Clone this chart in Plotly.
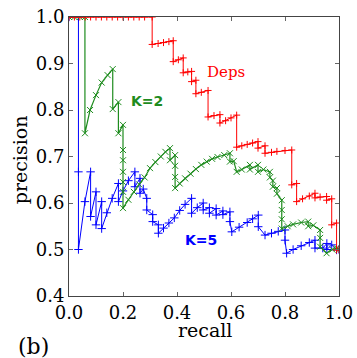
import plotly.graph_objects as go

# Deps (red)
deps_recall = [0.0, 0.02, 0.04, 0.06, 0.08, 0.10, 0.12, 0.14, 0.16, 0.18, 0.20, 0.22, 0.24, 0.26, 0.28, 0.308,
               0.308, 0.33, 0.35, 0.37, 0.386, 0.386, 0.405, 0.423, 0.423, 0.44, 0.454, 0.454, 0.470, 0.470,
               0.49, 0.515, 0.515, 0.537, 0.559, 0.559, 0.58, 0.60, 0.621, 0.621, 0.64, 0.66, 0.68, 0.70,
               0.70, 0.726, 0.726, 0.75, 0.77, 0.80, 0.825, 0.825, 0.843, 0.843, 0.865, 0.89, 0.911, 0.911,
               0.93, 0.954, 0.954, 0.973, 0.973, 0.991, 0.991, 1.0]
deps_precision = [1.0, 1.0, 1.0, 1.0, 1.0, 1.0, 1.0, 1.0, 1.0, 1.0, 1.0, 1.0, 1.0, 1.0, 1.0, 1.0,
                  0.941, 0.943, 0.945, 0.947, 0.949, 0.904, 0.908, 0.912, 0.880, 0.882, 0.883, 0.861, 0.864, 0.835,
                  0.838, 0.842, 0.785, 0.788, 0.79, 0.772, 0.777, 0.783, 0.789, 0.72, 0.723, 0.726, 0.729, 0.732,
                  0.718, 0.723, 0.707, 0.709, 0.711, 0.713, 0.714, 0.639, 0.642, 0.603, 0.609, 0.615, 0.621, 0.611,
                  0.613, 0.614, 0.606, 0.609, 0.553, 0.557, 0.499, 0.50]

# K=2 (green)
k2_recall = [0.0, 0.02, 0.04, 0.059, 0.059, 0.078, 0.1, 0.121, 0.143, 0.162,
             0.162, 0.183, 0.183, 0.2, 0.2, 0.2, 0.2, 0.2, 0.2, 0.2,
             0.22, 0.24, 0.26, 0.28, 0.30, 0.32, 0.34, 0.357, 0.374, 0.374,
             0.393, 0.393, 0.393, 0.393, 0.41, 0.43, 0.45, 0.47, 0.49, 0.51,
             0.53, 0.55, 0.575, 0.596, 0.596, 0.61, 0.621, 0.64, 0.67, 0.67,
             0.70, 0.70, 0.72, 0.744, 0.744, 0.755, 0.755, 0.77, 0.77, 0.788,
             0.788, 0.788, 0.788, 0.81, 0.83, 0.86, 0.886, 0.886, 0.905, 0.93,
             0.93, 0.93, 0.954, 0.975, 0.991, 1.0]
k2_precision = [1.0, 1.0, 1.0, 1.0, 0.75, 0.80, 0.832, 0.859, 0.875, 0.888,
                0.802, 0.817, 0.75, 0.768, 0.714, 0.692, 0.667, 0.645, 0.624, 0.589,
                0.607, 0.624, 0.640, 0.655, 0.675, 0.688, 0.700, 0.710, 0.718, 0.692,
                0.703, 0.68, 0.656, 0.632, 0.642, 0.653, 0.663, 0.673, 0.682, 0.689,
                0.695, 0.699, 0.703, 0.707, 0.689, 0.69, 0.667, 0.672, 0.682, 0.672,
                0.682, 0.667, 0.672, 0.667, 0.655, 0.648, 0.635, 0.632, 0.62, 0.606,
                0.585, 0.565, 0.545, 0.55, 0.554, 0.558, 0.56, 0.55, 0.552, 0.542,
                0.525, 0.506, 0.492, 0.50, 0.503, 0.50]

# K=5 (blue)
k5_recall = [0.0, 0.035, 0.035, 0.035, 0.059, 0.08, 0.08, 0.1, 0.1, 0.121, 0.121, 0.14, 0.16, 0.183, 0.183,
             0.2, 0.22, 0.244, 0.244, 0.263, 0.263, 0.275, 0.288, 0.288, 0.31, 0.31, 0.331, 0.331, 0.35, 0.37,
             0.39, 0.41, 0.43, 0.454, 0.454, 0.475, 0.497, 0.497, 0.52, 0.52, 0.545, 0.545, 0.57, 0.57, 0.596,
             0.596, 0.603, 0.63, 0.66, 0.68, 0.701, 0.701, 0.726, 0.75, 0.775, 0.8, 0.8, 0.806, 0.83, 0.86,
             0.89, 0.911, 0.911, 0.94, 0.955, 0.955, 0.973, 0.991, 1.0]
k5_precision = [1.0, 1.0, 0.667, 0.5, 0.603, 0.667, 0.571, 0.624, 0.553, 0.603, 0.545, 0.579, 0.61, 0.642, 0.603,
                0.626, 0.648, 0.667, 0.635, 0.653, 0.621, 0.63, 0.61, 0.585, 0.575, 0.56, 0.553, 0.535, 0.546, 0.557,
                0.568, 0.584, 0.597, 0.61, 0.578, 0.59, 0.6, 0.585, 0.59, 0.578, 0.588, 0.574, 0.583, 0.575, 0.581,
                0.56, 0.538, 0.548, 0.558, 0.566, 0.574, 0.549, 0.531, 0.535, 0.539, 0.542, 0.52, 0.492, 0.5, 0.508,
                0.515, 0.52, 0.503, 0.503, 0.513, 0.5, 0.51, 0.499, 0.5]

x_ticks = [0.0, 0.2, 0.4, 0.6, 0.8, 1.0]
x_ticklabels = ["0.0", "0.2", "0.4", "0.6", "0.8", "1.0"]
y_ticks = [0.4, 0.5, 0.6, 0.7, 0.8, 0.9, 1.0]
y_ticklabels = ["0.4", "0.5", "0.6", "0.7", "0.8", "0.9", "1.0"]

RED = "#ff0000"
GREEN = "#1e8c1e"
BLUE = "#0000ff"

fig = go.Figure()
fig.add_trace(go.Scatter(x=k5_recall, y=k5_precision, mode="lines+markers",
                         line=dict(color=BLUE, width=1),
                         marker=dict(symbol="cross-thin-open", size=6, color=BLUE, line=dict(width=1, color=BLUE))))
fig.add_trace(go.Scatter(x=k2_recall, y=k2_precision, mode="lines+markers",
                         line=dict(color=GREEN, width=1.2),
                         marker=dict(symbol="x-thin-open", size=6, color=GREEN, line=dict(width=1, color=GREEN))))
fig.add_trace(go.Scatter(x=deps_recall, y=deps_precision, mode="lines+markers",
                         line=dict(color=RED, width=1),
                         marker=dict(symbol="cross-thin-open", size=5, color=RED, line=dict(width=1, color=RED))))

serif = "DejaVu Serif"
fig.add_annotation(x=0.58, y=0.882, text="Deps", showarrow=False, xref="x", yref="y",
                   font=dict(family=serif, size=15, color=RED))
fig.add_annotation(x=0.29, y=0.82, text="<b>K=2</b>", showarrow=False, xref="x", yref="y",
                   font=dict(family="DejaVu Sans", size=14, color=GREEN))
fig.add_annotation(x=0.49, y=0.52, text="<b>K=5</b>", showarrow=False, xref="x", yref="y",
                   font=dict(family="DejaVu Sans", size=14, color=BLUE))
fig.add_annotation(x=-0.195, y=-0.13, xref="paper", yref="paper", text="(b)", showarrow=False,
                   xanchor="left", yanchor="top", font=dict(family=serif, size=22, color="black"))
fig.add_annotation(x=0.504, y=-0.122, xref="paper", yref="paper", text="recall", showarrow=False,
                   xanchor="center", yanchor="middle", font=dict(family=serif, size=19, color="black"))
fig.add_annotation(x=-0.181, y=0.487, xref="paper", yref="paper", text="precision", showarrow=False,
                   textangle=-90, xanchor="center", yanchor="middle",
                   font=dict(family=serif, size=19, color="black"))

axis_common = dict(showgrid=False, zeroline=False, showline=True, linecolor="#444", linewidth=1,
                   mirror="ticks", ticks="inside", ticklen=4, tickcolor="#666", automargin=False,
                   ticklabeloverflow="allow",
                   tickfont=dict(family=serif, size=18, color="black"))
fig.update_xaxes(range=[0, 1.0], tickvals=x_ticks, ticktext=x_ticklabels, **axis_common)
fig.update_yaxes(range=[0.4, 1.0], tickvals=y_ticks, ticktext=y_ticklabels, **axis_common)

fig.update_layout(width=357, height=358, margin=dict(l=69, r=18, t=17, b=62, autoexpand=False),
                  plot_bgcolor="white", paper_bgcolor="white", showlegend=False)

fig.write_html("out.html", config={"displayModeBar": False},
               post_script="document.body.style.margin='0px';")
